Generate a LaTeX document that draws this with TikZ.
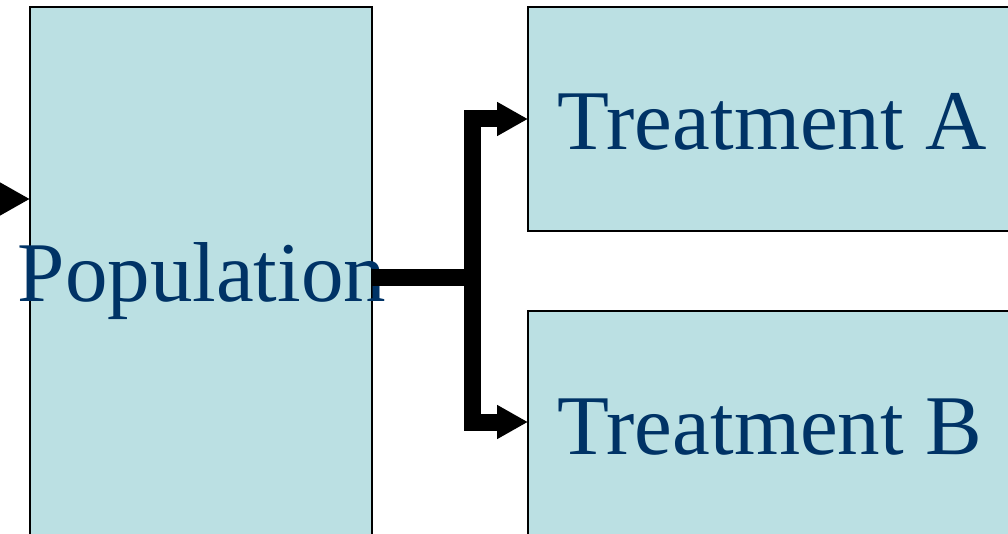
\documentclass[tikz,border=0pt]{standalone}
\usepackage{fontspec}
\setmainfont{Liberation Serif}
\usetikzlibrary{arrows.meta}
\definecolor{boxfill}{RGB}{187,224,227}
\definecolor{textblue}{RGB}{0,51,102}
\begin{document}
\begin{tikzpicture}[x=1pt,y=-1pt,
  box/.style={draw=black,line width=2.5pt,fill=boxfill,rectangle,inner sep=0pt,outer sep=0pt},
  label/.style={text=textblue,inner sep=0pt,font=\fontsize{85}{100}\selectfont},
  conn/.style={line width=17pt,line join=miter,draw=black},
  tip/.style={-{Triangle[length=31pt,width=32pt]}}]
\useasboundingbox (0,0) rectangle (1008,534);
\clip (0,0) rectangle (1008,534);
% boxes
\node[box,minimum width=342pt,minimum height=593pt] (pop) at (201,303.5) {};
\node[box,minimum width=572pt,minimum height=224pt] (ta) at (814,119) {};
\node[box,minimum width=572pt,minimum height=289pt] (tb) at (814,455.5) {};
% texts
\node[label,anchor=base] (poptext) at (202,301.7) {Population};
\node[label,anchor=base west] (tatext) at (557.5,150) {Treatment A};
\node[label,anchor=base west] (tbtext) at (557.5,454) {Treatment B};
% connectors
\coordinate (in) at (-10,199);
\coordinate (j) at (472,278);
\coordinate (tbin) at (528,422);
\draw[conn,tip] (in) -- (pop.west |- in);
\draw[conn] (pop.east |- j) -- (j);
\draw[conn,tip] (j) |- (ta.west);
\draw[conn,tip] (j) |- (tbin);
\end{tikzpicture}
\end{document}
